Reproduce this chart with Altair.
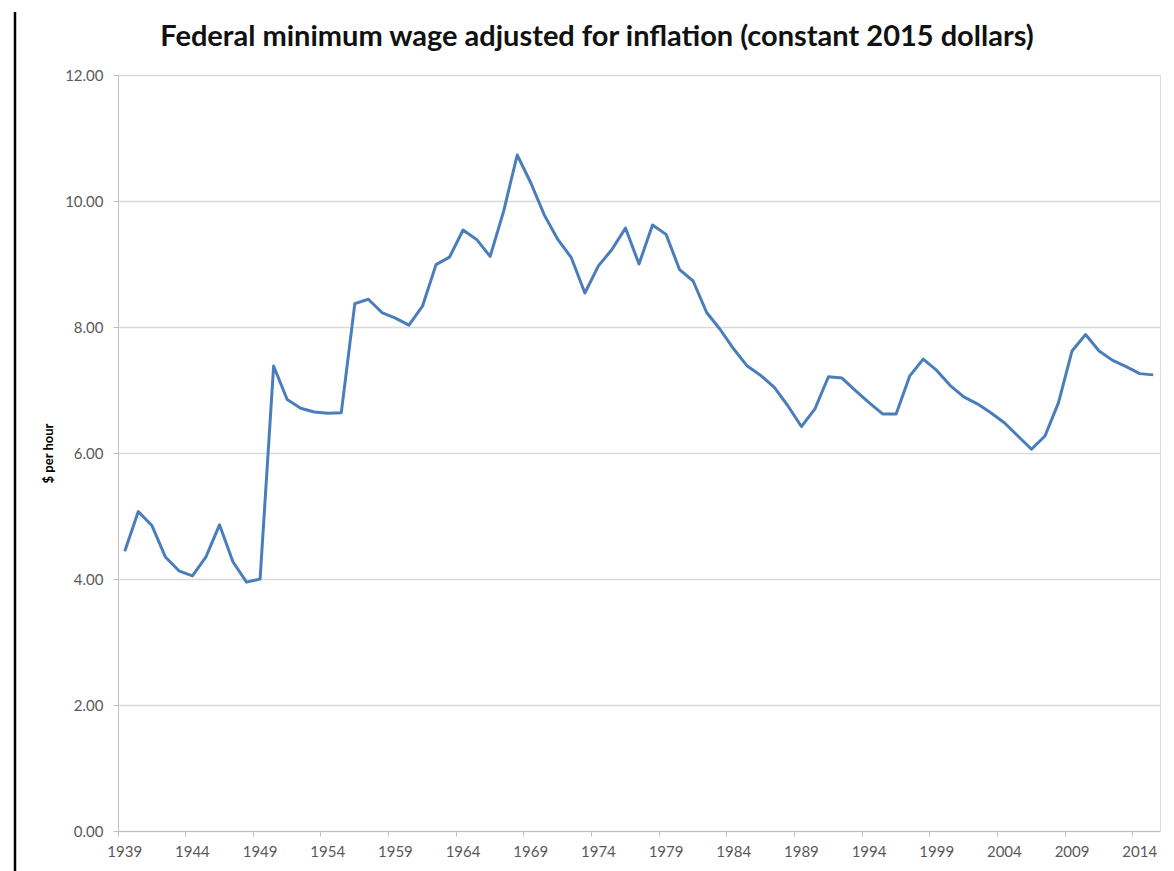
import altair as alt
import pandas as pd

years = list(range(1939, 2016))
wage = [4.44, 5.07, 4.85, 4.35, 4.13, 4.05, 4.35, 4.86, 4.27, 3.95, 4.00,
        7.38, 6.85, 6.71, 6.65, 6.63, 6.64, 8.37, 8.44, 8.23, 8.14,
        8.03, 8.33, 8.99, 9.11, 9.54, 9.39, 9.12, 9.84, 10.73, 10.29,
        9.78, 9.39, 9.10, 8.54, 8.97, 9.23, 9.57, 9.00, 9.62, 9.47,
        8.91, 8.73, 8.23, 7.96, 7.65, 7.38, 7.23, 7.04, 6.75, 6.42,
        6.70, 7.21, 7.19, 6.99, 6.80, 6.62, 6.62, 7.22, 7.49, 7.31,
        7.07, 6.89, 6.78, 6.64, 6.48, 6.27, 6.06, 6.27, 6.80, 7.62,
        7.88, 7.62, 7.47, 7.37, 7.26, 7.24]
x_labels = list(range(1939, 2015, 5))
y_ticks = [0, 2, 4, 6, 8, 10, 12]
title_text = ["Federal minimum wage adjusted for inflation (constant 2015 dollars)"]

df = pd.DataFrame({"year": years, "wage": wage})

FONT = "Lato"
GRID = "#d9d9d9"
LABEL = "#595959"

line = alt.Chart(df).mark_line(color="#4A7EBB", strokeWidth=3, strokeJoin="round").encode(
    x=alt.X("year:O", bandPosition=0.5,
            scale=alt.Scale(type="band", paddingInner=0, paddingOuter=0),
            axis=alt.Axis(values=x_labels, bandPosition=0, labelAngle=0, title=None,
                          tickSize=5, tickColor="#bfbfbf", domainColor="#bfbfbf",
                          labelPadding=8, labelFont=FONT, labelFontSize=15,
                          labelColor=LABEL, grid=False)),
    y=alt.Y("wage:Q", scale=alt.Scale(domain=[0, 12], nice=False, zero=True),
            axis=alt.Axis(values=y_ticks, format=".2f", title="$ per hour",
                          titleFont=FONT, titleFontSize=13, titleFontWeight="bold",
                          titleColor="#000000", titlePadding=9,
                          tickSize=5, tickColor="#bfbfbf", domainColor="#bfbfbf",
                          labelPadding=10, labelFont=FONT, labelFontSize=15,
                          labelColor=LABEL, grid=True, gridColor=GRID, gridWidth=1.5)),
)

title = alt.Chart(pd.DataFrame({"t": title_text})).mark_text(
    font=FONT, fontSize=29, fontWeight="bold", color="#111111",
    align="center", baseline="alphabetic"
).encode(text="t:N", x=alt.value(479), y=alt.value(-29))

border = alt.Chart(pd.DataFrame({"k": [0]})).mark_rule(color="#000000", strokeWidth=2.5).encode(
    x=alt.value(-103), y=alt.value(-63), y2=alt.value(800)
)

chart = alt.layer(line, title, border).properties(
    width=1042,
    height=756,
    padding={"left": 110, "top": 67, "right": 6, "bottom": 40},
    autosize=alt.AutoSizeParams(type="none"),
).configure_view(stroke=None).configure(background="white")

chart.save("out.html", embed_options={"renderer": "svg", "actions": False})
